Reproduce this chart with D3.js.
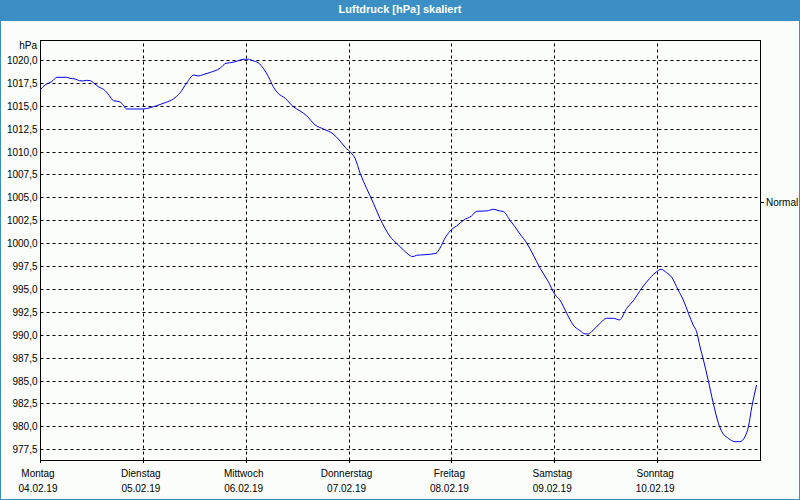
<!DOCTYPE html>
<html>
<head>
<meta charset="utf-8">
<script src="https://cdn.jsdelivr.net/npm/d3@7"></script>
<style>
  html, body { margin: 0; padding: 0; background: #fff; }
  svg { display: block; font-family: "Liberation Sans", Arial, sans-serif; }
</style>
</head>
<body>
<div id="chart"></div>
<script>
// Stunden seit Montag 00:00 und Luftdruck (hPa)
var hours = [0, 1.2, 2.7, 4.0, 6.2, 7.0, 8.2, 9.2, 10.1, 10.9, 11.7, 12.6, 13.6, 15.2, 16.2, 17.1,
  18.5, 19.3, 20.2, 24.1, 25.7, 27.2, 29.2, 31.1, 32.7, 34.2, 35.9, 36.9, 38.1, 39.7, 42.0, 43.4,
  45.1, 46.3, 47.4, 48.6, 49.8, 50.9, 52.1, 53.3, 54.4, 55.4, 57.2, 59.1, 60.7, 62.2, 64.2, 66.1,
  68.4, 69.8, 71.2, 72.6, 73.5, 74.7, 76.2, 77.8, 79.3, 80.5, 81.7, 83.2, 84.8, 85.9, 87.0, 87.9,
  89.8, 92.4, 93.3, 94.7, 96.1, 97.2, 98.9, 100.7, 101.9, 104.2, 105.9, 106.9, 108.1, 109.7, 110.8,
  112.0, 113.6, 115.1, 116.7, 118.6, 120.2, 121.3, 122.9, 124.4, 126.0, 127.2, 127.9, 129.1, 130.7,
  132.2, 133.8, 135.2, 136.9, 138.4, 140.4, 142.3, 143.9, 144.9, 146.2, 147.4, 148.9, 150.1, 151.3,
  152.4, 153.2, 154.0, 154.8, 155.9, 157.1, 158.3, 159.1, 160.6, 162.2, 163.3, 164.5, 165.3, 166.1, 167.2];
var pressure = [1016.72, 1017.27, 1017.63, 1018.11, 1018.11, 1018.0, 1017.93, 1017.74, 1017.71, 1017.78,
  1017.74, 1017.46, 1017.09, 1016.65, 1016.10, 1015.56, 1015.45, 1015.16, 1014.65, 1014.65, 1014.79,
  1015.01, 1015.34, 1015.74, 1016.43, 1017.46, 1018.36, 1018.25, 1018.40, 1018.64, 1019.09, 1019.64,
  1019.75, 1019.92, 1020.08, 1020.08, 1019.89, 1019.71, 1019.09, 1018.18, 1017.09, 1016.43, 1015.82,
  1014.90, 1014.43, 1013.92, 1012.90, 1012.47, 1011.92, 1011.27, 1010.47, 1009.85, 1009.27, 1007.63,
  1005.99, 1004.36, 1002.72, 1001.63, 1000.71, 999.99, 999.26, 998.79, 998.53, 998.68, 998.74, 998.89,
  999.44, 1000.71, 1001.52, 1001.88, 1002.53, 1002.97, 1003.48, 1003.52, 1003.70, 1003.55, 1003.46,
  1002.48, 1001.80, 1001.00, 999.99, 998.71, 997.26, 995.80, 994.35, 993.80, 992.35, 991.07, 990.45,
  990.09, 990.09, 990.52, 991.26, 991.80, 991.80, 991.62, 992.89, 993.69, 995.08, 996.17, 996.89,
  997.15, 996.78, 996.28, 994.89, 993.80, 992.35, 991.07, 990.34, 988.70, 987.25, 985.07, 982.52,
  980.34, 979.42, 978.70, 978.33, 978.33, 978.88, 979.97, 982.15, 984.52];

var dayNames = ["Montag", "Dienstag", "Mittwoch", "Donnerstag", "Freitag", "Samstag", "Sonntag"];
var dayDates = ["04.02.19", "05.02.19", "06.02.19", "07.02.19", "08.02.19", "09.02.19", "10.02.19"];
var dayHours = [0, 24, 48, 72, 96, 120, 144];
var yTicks = [977.5, 980, 982.5, 985, 987.5, 990, 992.5, 995, 997.5, 1000,
  1002.5, 1005, 1007.5, 1010, 1012.5, 1015, 1017.5, 1020];
var normalValue = 1004.5;
var titleText = "Luftdruck [hPa] skaliert";

var iWidth = 800, iHeight = 500;
var oPlot = { left: 40, right: 760, top: 40, bottom: 460 };
var sBlue = "#3b8fc4";

var dSVG = d3.select("#chart").append("svg")
    .attr("width", iWidth)
    .attr("height", iHeight);

// Rahmen und Titelleiste
dSVG.append("rect").attr("width", iWidth).attr("height", iHeight).attr("fill", sBlue);
dSVG.append("rect").attr("x", 1).attr("y", 21).attr("width", iWidth - 2).attr("height", iHeight - 22)
    .attr("fill", "#fbfdfb");
dSVG.append("text")
    .attr("x", iWidth / 2).attr("y", 13)
    .attr("text-anchor", "middle")
    .attr("fill", "#fff")
    .style("font-size", "11px")
    .style("font-weight", "bold")
    .text(titleText);

var x = d3.scaleLinear().domain([0, 168]).range([oPlot.left, oPlot.right]);
var y = d3.scaleLinear().domain([976.33, 1022.18]).range([oPlot.bottom, oPlot.top]);

var locale = d3.formatLocale({ decimal: ",", thousands: "", grouping: [3], currency: ["", ""] });
var fmt = locale.format(".1f");

// Y-Achse mit gestricheltem Raster
var gY = dSVG.append("g")
    .attr("transform", "translate(" + oPlot.left + ",0)")
    .call(d3.axisLeft(y).tickValues(yTicks).tickFormat(fmt)
        .tickSizeInner(-(oPlot.right - oPlot.left)).tickSizeOuter(0).tickPadding(3));
gY.select(".domain").remove();
gY.selectAll(".tick").attr("transform", function(d) { return "translate(0.5," + (Math.round(y(d)) + 0.5) + ")"; });
gY.selectAll(".tick line").attr("stroke", "#000").attr("stroke-dasharray", "3,3");
gY.selectAll(".tick text").attr("fill", "#000").style("font-size", "10px")
    .style("font-family", "Liberation Sans, Arial, sans-serif");

// X-Raster (Tagesgrenzen)
var gX = dSVG.append("g")
    .attr("transform", "translate(0," + oPlot.bottom + ")")
    .call(d3.axisBottom(x).tickValues(dayHours).tickFormat("")
        .tickSizeInner(-(oPlot.bottom - oPlot.top)).tickSizeOuter(0));
gX.select(".domain").remove();
gX.selectAll(".tick").attr("transform", function(d) { return "translate(" + (Math.round(x(d)) + 0.5) + ",0.5)"; });
gX.selectAll(".tick line").attr("stroke", "#000").attr("stroke-dasharray", "3,3");

// kleine Striche unter der Achse
dSVG.append("g").selectAll("line").data(dayHours).enter().append("line")
    .attr("x1", function(d) { return Math.round(x(d)) + 0.5; })
    .attr("x2", function(d) { return Math.round(x(d)) + 0.5; })
    .attr("y1", oPlot.bottom).attr("y2", oPlot.bottom + 3)
    .attr("stroke", "#000");

// Plotrahmen
dSVG.append("rect")
    .attr("x", oPlot.left + 0.5).attr("y", oPlot.top + 0.5)
    .attr("width", oPlot.right - oPlot.left).attr("height", oPlot.bottom - oPlot.top)
    .attr("fill", "none").attr("stroke", "#000");

// Tagesbeschriftungen
var gLab = dSVG.append("g").style("font-size", "10px").attr("fill", "#000");
gLab.selectAll("text.day").data(dayHours).enter().append("text")
    .attr("class", "day")
    .attr("x", function(d) { return x(d) - 2; })
    .attr("y", 477)
    .attr("text-anchor", "middle")
    .text(function(d, i) { return dayNames[i]; });
gLab.selectAll("text.date").data(dayHours).enter().append("text")
    .attr("class", "date")
    .attr("x", function(d) { return x(d) - 2; })
    .attr("y", 492)
    .attr("text-anchor", "middle")
    .text(function(d, i) { return dayDates[i]; });

dSVG.append("text")
    .attr("x", oPlot.left - 3).attr("y", 49)
    .attr("text-anchor", "end")
    .style("font-size", "10px")
    .text("hPa");

// Normal-Markierung rechts
var yN = Math.round(y(normalValue)) + 0.5;
dSVG.append("line")
    .attr("x1", oPlot.right + 1).attr("x2", oPlot.right + 4)
    .attr("y1", yN).attr("y2", yN)
    .attr("stroke", "#000");
dSVG.append("text")
    .attr("x", oPlot.right + 6).attr("y", yN + 3.5)
    .style("font-size", "10px")
    .text("Normal");

// Kurve
var data = hours.map(function(h, i) { return { h: h, v: pressure[i] }; });
var line = d3.line()
    .x(function(d) { return x(d.h); })
    .y(function(d) { return y(d.v); })
    .curve(d3.curveMonotoneX);
dSVG.append("path")
    .datum(data)
    .attr("d", line)
    .attr("fill", "none")
    .attr("stroke", "#0000e6")
    .attr("stroke-width", 1);
</script>
</body>
</html>
